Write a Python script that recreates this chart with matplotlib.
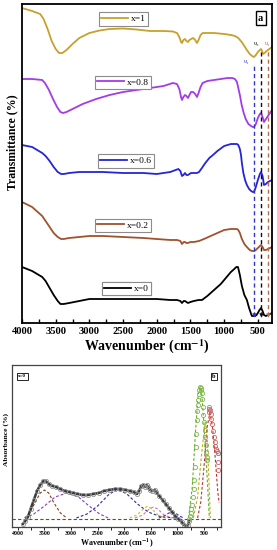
import matplotlib
matplotlib.use("Agg")
import matplotlib.pyplot as plt
from matplotlib.lines import Line2D

plt.rcParams['font.family'] = ['Liberation Serif', 'DejaVu Serif']
plt.rcParams['mathtext.fontset'] = 'stix'

# ---------------- panel a : FTIR transmittance (offset curves, arbitrary units) ----------------
labels_a = ["x=1", "x=0.8", "x=0.6", "x=0.2", "x=0"]
colors_a = ["#c9a02c", "#a33be8", "#2424d8", "#a0522d", "#000000"]

wn_x1 = [4000, 3850, 3730, 3680, 3620, 3560, 3500, 3450, 3400, 3340, 3250, 3150, 3000, 2850, 2700, 2500,
         2300, 2100, 1900, 1760, 1700, 1665, 1640, 1626, 1605, 1581, 1560, 1537, 1515, 1490, 1460, 1430,
         1403, 1380, 1350, 1320, 1250, 1150, 1000, 900, 840, 790, 740, 700, 663, 620, 587, 557, 530, 500,
         470, 453, 438, 423, 400, 370, 330, 290]
tr_x1 = [315, 312, 309, 304, 294, 282, 274, 270, 270, 273, 279, 285, 290, 292.5, 294, 294.5,
         293.5, 292, 292, 291.5, 290, 286, 281, 280, 283, 284, 282, 281, 283, 284, 285, 283,
         280, 283, 288, 290, 290, 290, 289, 288, 287, 285, 281, 277, 273, 269, 267, 266, 268, 271,
         273, 274, 272, 269, 270, 272, 274, 276]

wn_x08 = [4000, 3850, 3700, 3660, 3600, 3540, 3480, 3430, 3390, 3340, 3250, 3100, 2900, 2700, 2500, 2300,
          2100, 1900, 1760, 1700, 1665, 1640, 1626, 1605, 1581, 1560, 1537, 1515, 1492, 1460, 1430, 1403,
          1380, 1350, 1320, 1250, 1150, 1050, 950, 880, 840, 810, 790, 767, 740, 710, 680, 640, 600, 575,
          557, 530, 500, 470, 453, 430, 409, 380, 350, 320, 290]
tr_x08 = [244, 244, 243, 240, 233, 224, 216, 211, 210, 211, 214, 219, 224, 228, 231, 233,
          235, 237, 240, 239, 234, 226, 223, 226, 228, 227, 225, 228, 231, 231, 229, 226,
          230, 236, 240, 242, 243, 244, 245, 245, 244, 241, 235, 228, 218, 210, 204, 199, 197, 196,
          196, 199, 205, 209, 210, 206, 201, 204, 207, 210, 213]

wn_x06 = [4000, 3850, 3700, 3650, 3590, 3530, 3470, 3420, 3380, 3300, 3150, 3000, 2800, 2500, 2200, 2000,
          1800, 1720, 1680, 1650, 1626, 1605, 1581, 1560, 1537, 1515, 1492, 1450, 1403, 1373, 1330, 1280,
          1220, 1166, 1100, 1040, 1000, 950, 900, 850, 810, 790, 767, 750, 737, 715, 690, 663, 630, 600,
          575, 557, 530, 500, 470, 453, 430, 409, 380, 350, 320, 290]
tr_x06 = [178, 176, 170, 167, 162, 156, 151, 149, 149, 150, 151, 151, 151, 150, 150, 149,
          151, 153, 154, 152, 147, 148, 150, 148, 148, 149, 150, 150, 150, 151, 155, 160,
          165, 168, 172, 175, 177, 178, 179, 179, 179, 178, 174, 168, 160, 150, 143, 138, 134, 132,
          131, 131, 136, 143, 149, 151, 147, 138, 139, 141, 142, 143]

wn_x02 = [4000, 3850, 3700, 3650, 3590, 3530, 3470, 3420, 3380, 3300, 3150, 3000, 2800, 2500, 2200, 2000,
          1800, 1700, 1650, 1626, 1600, 1581, 1560, 1537, 1500, 1450, 1373, 1300, 1200, 1100, 1000, 900,
          850, 810, 790, 767, 737, 700, 663, 620, 587, 557, 530, 500, 470, 453, 430, 409, 380, 350, 320, 290]
tr_x02 = [121, 116, 107, 102, 96, 90, 86, 84, 84, 85, 86, 87, 87, 86, 85, 84,
          83, 83, 82, 79, 81, 81, 80, 80, 81, 81, 82, 84, 87, 90, 93, 94,
          94, 94, 93, 90, 84, 79, 76, 73, 72, 72, 73, 75, 77, 78, 76, 73, 73, 74, 75, 76]

wn_x0 = [4000, 3850, 3700, 3650, 3590, 3530, 3470, 3430, 3380, 3300, 3150, 3000, 2800, 2500, 2200, 2000,
         1800, 1700, 1650, 1626, 1600, 1581, 1560, 1537, 1500, 1450, 1380, 1329, 1250, 1150, 1050, 1000,
         950, 900, 850, 820, 795, 767, 737, 700, 663, 630, 600, 587, 560, 540, 520, 500, 475, 453, 430,
         409, 380, 350, 320, 290]
tr_x0 = [56, 52, 46, 42, 35, 28, 22, 19, 19, 20, 22, 24, 24, 24, 24, 24,
         23, 23, 22, 20, 22, 22, 21, 20, 21, 22, 23, 23, 27, 33, 39, 43,
         47, 51, 54, 56, 56, 48, 37, 28, 23, 15, 9, 7, 7, 7, 8, 10, 13, 15, 12,
         8, 7, 8, 9, 10]

series_a = [(wn_x1, tr_x1), (wn_x08, tr_x08), (wn_x06, tr_x06), (wn_x02, tr_x02), (wn_x0, tr_x0)]
legend_pos_a = [(0.406, 0.953), (0.404, 0.754), (0.416, 0.508), (0.404, 0.306), (0.418, 0.108)]

# vibrational modes
mode_labels = ["\u03c5\u2081", "\u03c5\u2083", "\u03c5\u2082"]
mode_wn = [557, 453, 350]
mode_top = [258, 271, 273]
mode_colors = ["#3535c8", "#111111", "#b5704a"]
mode_label_pos = [(661, 261), (513, 279), (350, 280)]

ticks_a = [4000, 3500, 3000, 2500, 2000, 1500, 1000, 500]

# ---------------- panel b : absorbance deconvolution (x=0) ----------------
wn_meas = [3906, 3860, 3812, 3760, 3700, 3640, 3580, 3520, 3480, 3420, 3350, 3280, 3200, 3120, 3040,
           2960, 2880, 2780, 2680, 2580, 2480, 2380, 2280, 2180, 2080, 1980, 1900, 1820, 1760, 1720,
           1680, 1640, 1610, 1580, 1550, 1510, 1470, 1430, 1400, 1340, 1280, 1220, 1160, 1100, 1040,
           980, 920, 870, 830, 800, 780]
ab_meas = [3, 6, 10, 18, 27, 36, 42, 46, 46, 43, 41, 40, 38, 36, 35,
           34, 33, 32, 32, 33, 34, 36, 37, 38, 38, 37, 36, 35, 33, 36,
           41, 42, 40, 42, 40, 37, 36, 37, 35, 31, 27, 23, 19, 15, 11,
           8, 5, 2, 1, 2, 6]

wn_green = [780, 765, 750, 735, 720, 707, 695, 682, 670, 656, 646, 637, 625, 615, 607, 595, 585, 575,
            565, 555, 545, 535, 520, 510, 500, 490, 480, 470, 460, 450, 445]
ab_green = [8, 11, 14, 18, 22, 30, 38, 47, 60, 80, 93, 107, 116, 122, 127, 133, 137, 140,
            139, 137, 134, 128, 120, 112, 105, 97, 90, 82, 75, 70, 67]
wn_red = [410, 400, 390, 375, 360, 345, 330, 315, 300, 285, 270, 255, 242, 236, 230]
ab_red = [115, 118, 117, 113, 108, 103, 96, 90, 85, 81, 78, 76, 74, 65, 57]
wn_grey_end = [400, 236]
ab_grey_end = [120, 74]

baseline_b = 8.5

comp_colors = ["#8b3a1a", "#7a3fbf", "#2a2a9a", "#d4c21a", "#d070d0", "#3030d0", "#6aaa2a", "#b5b020", "#c03030"]
comp_wn = [
    [3870, 3780, 3680, 3580, 3500, 3420, 3320, 3200, 3080],
    [3870, 3700, 3500, 3300, 3080, 2860, 2660, 2460, 2300],
    [2900, 2700, 2500, 2300, 2130, 1950, 1750, 1550, 1300, 1000],
    [1900, 1760, 1640, 1560, 1480, 1360, 1220],
    [1800, 1650, 1530, 1450, 1370, 1250, 1100],
    [1350, 1250, 1160, 1100, 1040, 960, 880],
    [790, 720, 660, 610, 575, 540, 490, 430, 400],
    [700, 620, 550, 490, 470, 440, 410, 380],
    [620, 560, 500, 440, 390, 340, 290, 240, 215],
]
comp_ab = [
    [9, 14, 24, 34, 37, 34, 24, 14, 9],
    [9, 13, 21, 30, 34, 30, 21, 13, 9],
    [9, 13, 21, 32, 38, 33, 23, 15, 10, 9],
    [9, 12, 18, 21, 18, 12, 9],
    [9, 12, 18, 20, 18, 12, 9],
    [9, 11, 14, 15, 14, 11, 9],
    [9, 40, 95, 132, 140, 132, 95, 40, 9],
    [9, 30, 70, 100, 105, 90, 50, 9],
    [9, 25, 60, 100, 114, 100, 70, 35, 24],
]

# ---------------- figure ----------------
W, H = 277, 550
fig = plt.figure(figsize=(W / 100, H / 100), dpi=100)

def ax_rect(x0, y0, x1, y1):
    return [x0 / W, 1 - y1 / H, (x1 - x0) / W, (y1 - y0) / H]

ax = fig.add_axes(ax_rect(22, 4, 272, 323))
ax.set_xlim(4000, 290)
ax.set_ylim(0, 319)

for (wn, tr), c, lab, pos in zip(series_a, colors_a, labels_a, legend_pos_a):
    ax.plot(wn, tr, color=c, lw=1.3, solid_joinstyle='round')
    leg = ax.legend([Line2D([], [], color=c, lw=1.3)], [lab], loc='center', bbox_to_anchor=pos,
                    frameon=True, fancybox=False, edgecolor='#8c8c8c', framealpha=1,
                    fontsize=6.8, handlelength=2.8, handletextpad=0.3, borderpad=0.25,
                    borderaxespad=0)
    leg.get_frame().set_linewidth(0.8)
    ax.add_artist(leg)

for w, top, c, lab, (lx, ly) in zip(mode_wn, mode_top, mode_colors, mode_labels, mode_label_pos):
    ax.vlines(w, 7, top, colors=c, linestyles=(0, (3, 2.2)), lw=1.0)
    ax.plot([w], [8], marker='v', color=c, ms=3.2, mew=0)
    ax.text(lx, ly, lab, color=c, fontsize=4.8, ha='center', va='center')

ax.set_xticks(ticks_a)
ax.set_xticks(range(3750, 290, -250), minor=True)
ax.set_xticklabels([str(t) for t in ticks_a], fontweight='bold', fontsize=7.6)
ax.tick_params(axis='x', which='both', direction='in', length=3, width=1, pad=3)
ax.tick_params(axis='x', which='minor', labelbottom=False)
ax.set_yticks([])
for s in ax.spines.values():
    s.set_linewidth(1.3)
ax.set_xlabel('Wavenumber (cm$^{\\mathbf{-1}}$)', fontsize=10, fontweight='bold', labelpad=1)
fig.text(12 / W, 1 - 142 / H, 'Transmittance (%)', rotation=90, fontsize=8.5, fontweight='bold',
         ha='center', va='center')
ax.text(0.955, 0.955, 'a', transform=ax.transAxes, fontsize=7.5, fontweight='bold', ha='center',
        va='center', bbox=dict(boxstyle='square,pad=0.25', fc='white', ec='black', lw=1.0))

# ---- panel b ----
bx = fig.add_axes(ax_rect(12, 365, 221, 527))
bx.set_xlim(4110, 180)
bx.set_ylim(0, 162)

bx.axhline(baseline_b, color='#5a5a10', ls=(0, (3, 2)), lw=0.8)
for wn, ab, c in zip(comp_wn, comp_ab, comp_colors):
    bx.plot(wn, ab, color=c, ls=(0, (2.5, 1.8)), lw=0.8)
bx.plot(wn_meas, ab_meas, color='#3a3a3a', lw=1.8)
bx.plot(wn_meas, ab_meas, ls='none', marker='o', mfc='none', mec='#909090', ms=3, mew=0.6)
bx.plot(wn_green, ab_green, ls='none', marker='o', mfc='none', mec='#7cb84a', ms=3, mew=0.6)
bx.plot(wn_red, ab_red, ls='none', marker='o', mfc='none', mec='#d06060', ms=3, mew=0.6)
bx.plot(wn_grey_end, ab_grey_end, ls='none', marker='o', mfc='none', mec='#909090', ms=3, mew=0.6)

bx.set_xticks(ticks_a)
bx.set_xticks(range(3750, 180, -250), minor=True)
bx.set_xticklabels([str(t) for t in ticks_a], fontweight='bold', fontsize=4.2)
bx.tick_params(axis='x', which='both', direction='out', length=1.8, width=0.6, pad=1)
bx.set_yticks([])
for s in bx.spines.values():
    s.set_linewidth(0.9)
    s.set_color('#444444')
bx.set_xlabel('Wavenumber (cm$^{\\mathbf{-1}}$)', fontsize=5.8, fontweight='bold', labelpad=0.5)
fig.text(6 / W, 1 - 440 / H, 'Absorbance (%)', rotation=90, fontsize=5.4, fontweight='bold',
         ha='center', va='center')
bx.text(0.05, 0.93, 'x=0', transform=bx.transAxes, fontsize=3.6, fontweight='bold', ha='center',
        va='center', bbox=dict(boxstyle='square,pad=0.3', fc='white', ec='black', lw=0.6))
bx.text(0.965, 0.93, 'b', transform=bx.transAxes, fontsize=4.5, fontweight='bold', ha='center',
        va='center', bbox=dict(boxstyle='square,pad=0.2', fc='white', ec='black', lw=0.6))

fig.savefig('out.png', dpi=100)
